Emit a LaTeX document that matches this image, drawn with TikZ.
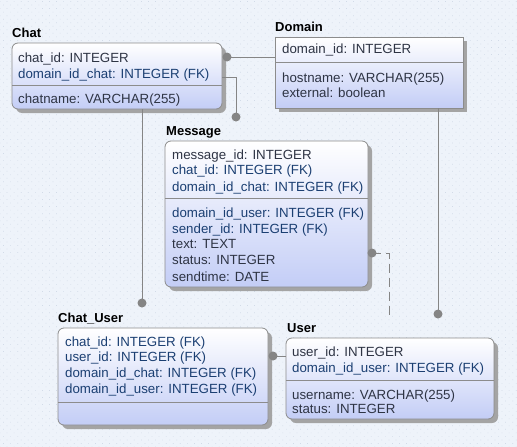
\documentclass[tikz,border=0pt]{standalone}
\usepackage{fontspec}
\setmainfont{Liberation Sans}
\usetikzlibrary{shadows,patterns.meta}
\definecolor{bg}{HTML}{EEF3FA}
\definecolor{bgdot}{HTML}{D2DBE8}
\definecolor{boxbot}{HTML}{C3CDF6}
\definecolor{boxedge}{HTML}{8C8C8C}
\definecolor{shadowc}{HTML}{A4A4A4}
\definecolor{pkc}{HTML}{2E3444}
\definecolor{fkc}{HTML}{1B3F72}
\definecolor{linec}{HTML}{858585}
\begin{document}
\begin{tikzpicture}[x=1pt,y=-1pt,
  tbl/.style={draw=boxedge, line width=0.8pt, top color=white, bottom color=boxbot,
    inner sep=0pt, outer sep=0pt, anchor=north west,
    drop shadow={shadow xshift=4pt, shadow yshift=-4pt, fill=shadowc, opacity=1}},
  rnd/.style={rounded corners=6pt},
  sepline/.style={draw=boxedge, line width=0.8pt},
  pk/.style={anchor=base west, inner sep=0pt, text=pkc, font=\fontsize{13.3}{15}\selectfont},
  fk/.style={anchor=base west, inner sep=0pt, text=fkc, font=\fontsize{13.3}{15}\selectfont},
  ttl/.style={anchor=base west, inner sep=0pt, text=black, font=\fontsize{13}{15}\selectfont\bfseries},
  dot/.style={circle, fill=linec, inner sep=0pt, minimum size=9pt},
  conn/.style={draw=linec, line width=1pt}]
\fill[bg] (0,0) rectangle (517,447);
\fill[pattern={Dots[distance=5pt, radius=0.5pt, angle=45]}, pattern color=bgdot] (0,0) rectangle (517,447);
\useasboundingbox (0,0) rectangle (517,447);

% ---------- Chat ----------
\node[ttl] (chat-t) at (12,37) {Chat};
\node[tbl, rnd, minimum width=210pt, minimum height=66pt] (chat) at (12,43) {};
\draw[sepline] (chat.west |- 0,85) -- (chat.east |- 0,85);
\node[pk] (chat-1) at (18,62) {chat\_id: INTEGER};
\node[fk] (chat-2) at (18,78) {domain\_id\_chat: INTEGER (FK)};
\node[pk] (chat-3) at (18,103) {chatname: VARCHAR(255)};

% ---------- Domain ----------
\node[ttl] (dom-t) at (275,31.5) {Domain};
\node[tbl, minimum width=188pt, minimum height=71pt] (domain) at (275,37) {};
\draw[sepline] (domain.west |- 0,62) -- (domain.east |- 0,62);
\node[pk] (dom-1) at (282,53) {domain\_id: INTEGER};
\node[pk] (dom-2) at (282,82) {hostname: VARCHAR(255)};
\node[pk] (dom-3) at (282,97) {external: boolean};

% ---------- Message ----------
\node[ttl] (msg-t) at (166,135) {Message};
\node[tbl, rnd, minimum width=203pt, minimum height=146pt] (msg) at (165,141) {};
\draw[sepline] (msg.west |- 0,198) -- (msg.east |- 0,198);
\node[pk] (msg-1) at (172,159) {message\_id: INTEGER};
\node[fk] (msg-2) at (172,174) {chat\_id: INTEGER (FK)};
\node[fk] (msg-3) at (172,191) {domain\_id\_chat: INTEGER (FK)};
\node[fk] (msg-4) at (172,217) {domain\_id\_user: INTEGER (FK)};
\node[fk] (msg-5) at (172,233) {sender\_id: INTEGER (FK)};
\node[pk] (msg-6) at (172,248) {text: TEXT};
\node[pk] (msg-7) at (172,264) {status: INTEGER};
\node[pk] (msg-8) at (172,281) {sendtime: DATE};

% ---------- Chat_User ----------
\node[ttl] (cu-t) at (58,322) {Chat\_User};
\node[tbl, rnd, minimum width=210pt, minimum height=97pt] (cu) at (58,328) {};
\draw[sepline] (cu.west |- 0,402) -- (cu.east |- 0,402);
\node[fk] (cu-1) at (65,346) {chat\_id: INTEGER (FK)};
\node[fk] (cu-2) at (65,361) {user\_id: INTEGER (FK)};
\node[fk] (cu-3) at (65,377) {domain\_id\_chat: INTEGER (FK)};
\node[fk] (cu-4) at (65,393) {domain\_id\_user: INTEGER (FK)};

% ---------- User ----------
\node[ttl] (user-t) at (287,332) {User};
\node[tbl, rnd, minimum width=208pt, minimum height=81pt] (user) at (286,338) {};
\draw[sepline] (user.west |- 0,380) -- (user.east |- 0,380);
\node[pk] (user-1) at (292,356) {user\_id: INTEGER};
\node[fk] (user-2) at (292,372) {domain\_id\_user: INTEGER (FK)};
\node[pk] (user-3) at (292,399) {username: VARCHAR(255)};
\node[pk] (user-4) at (292,413) {status: INTEGER};

% ---------- connectors ----------
\node[dot] (d1) at (227,57) {};
\draw[conn] (d1.center) -- (d1.center -| domain.west);

\node[dot] (d2) at (236,117) {};
\draw[conn] (chat.east |- 0,77) -| (d2.center);

\node[dot] (d3) at (142,303) {};
\draw[conn] (d3.center |- chat.south) -- (d3.center);

\node[dot] (d4) at (438,314) {};
\draw[conn] (d4.center |- domain.south) -- (d4.center);

\node[dot] (d5) at (372,253) {};
\coordinate (e5) at (389,318);
\draw[conn, dash pattern=on 9pt off 5pt] (d5.center) -| (e5);

\node[dot] (d6) at (273,356) {};
\draw[conn] (d6.center) -- (d6.center -| user.west);
\end{tikzpicture}
\end{document}
